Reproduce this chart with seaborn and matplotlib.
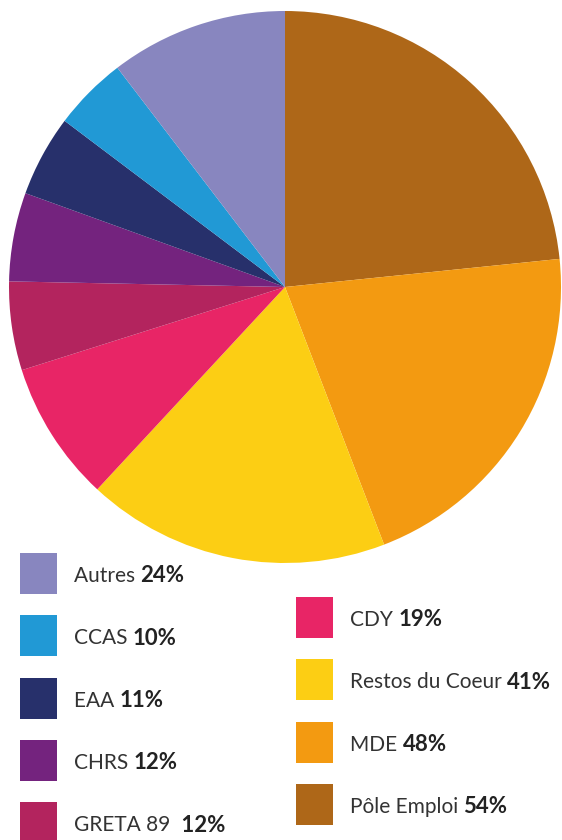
import matplotlib
matplotlib.use("Agg")
import matplotlib.pyplot as plt
from matplotlib.patches import Rectangle
import seaborn as sns

sns.set_theme(style="white")
plt.rcParams['font.family'] = ['Lato', 'DejaVu Sans']

# Data (pie order: clockwise from 12 o'clock)
labels = ['Pôle Emploi', 'MDE', 'Restos du Coeur', 'CDY', 'GRETA 89',
          'CHRS', 'EAA', 'CCAS', 'Autres']
values = [54, 48, 41, 19, 12, 12, 11, 10, 24]
colors = ['#AE6718', '#F39A11', '#FCCE14', '#E82566', '#B3245E',
          '#74237E', '#27306B', '#2199D5', '#8886BF']

# legend columns
left_items = ['Autres', 'CCAS', 'EAA', 'CHRS', 'GRETA 89']
right_items = ['CDY', 'Restos du Coeur', 'MDE', 'Pôle Emploi']

W, H = 562, 840
fig = plt.figure(figsize=(W / 100, H / 100), dpi=100)
fig.patch.set_facecolor('white')

# pie: centre (285, 287), radius 276 px
cx, cy, r = 285, 287, 276
ax = fig.add_axes([(cx - r) / W, 1 - (cy + r) / H, 2 * r / W, 2 * r / H])
ax.pie(values, colors=colors, startangle=90, counterclock=False,
       wedgeprops=dict(linewidth=0))
ax.set_xlim(-1, 1)
ax.set_ylim(-1, 1)
ax.axis('off')

# legend in pixel coordinates
lax = fig.add_axes([0, 0, 1, 1], zorder=-1)
lax.set_xlim(0, W)
lax.set_ylim(H, 0)
lax.axis('off')

color_of = dict(zip(labels, colors))
value_of = dict(zip(labels, values))


def legend_entry(x, y, name):
    lax.add_patch(Rectangle((x, y), 37, 41, color=color_of[name], lw=0))
    t = lax.text(x + 54, y + 23, name + ' ', fontsize=15, fontweight='normal',
                 color='#333333', va='center', ha='left')
    extra = ' ' if name == 'GRETA 89' else ''
    lax.annotate(extra + f'{value_of[name]}%', xy=(1, 0.5), xycoords=t,
                 xytext=(0, 0), textcoords='offset points', va='center',
                 ha='left', fontsize=16, fontweight='bold', color='#222222')


for i, name in enumerate(left_items):
    legend_entry(20, 553 + i * 62.3, name)
for i, name in enumerate(right_items):
    legend_entry(296, 597 + i * 62.3, name)

fig.savefig('out.png', dpi=100, facecolor='white')
